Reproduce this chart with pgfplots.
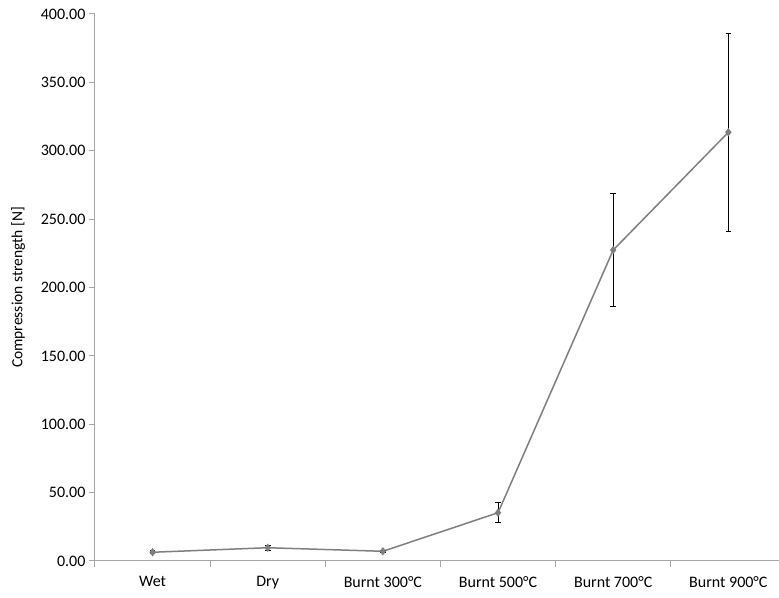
\documentclass[border=0pt]{standalone}
\usepackage{fontspec}
\setmainfont{Carlito}
\usepackage{pgfplots}
\pgfplotsset{compat=1.18}
\definecolor{linegray}{HTML}{7F7F7F}
\definecolor{axisgray}{HTML}{A6A6A6}
\begin{document}
\begin{tikzpicture}
\path[use as bounding box] (-95pt,-36pt) rectangle (684pt,547pt+14pt);
\begin{axis}[
  at={(0,0)}, anchor=south west,
  scale only axis, width=684pt, height=547pt,
  xmin=-0.5, xmax=5.44, ymin=0, ymax=400,
  axis lines*=left,
  axis line style={axisgray, line width=1pt},
  xtick={0,...,5},
  xticklabels={Wet, Dry, Burnt 300°C, Burnt 500°C, Burnt 700°C, Burnt 900°C},
  minor xtick={-0.5,0.5,1.5,2.5,3.5,4.5},
  major x tick style={draw=none},
  minor x tick style={axisgray, line width=1pt},
  ytick={0,50,...,400},
  y tick style={axisgray, line width=1pt},
  tick align=outside,
  major tick length=6pt, minor tick length=6pt,
  yticklabel style={/pgf/number format/.cd, fixed, fixed zerofill, precision=2, assume math mode=true},
  ticklabel style={font=\fontsize{16}{19}\selectfont, text=black},
  xticklabel style={yshift=-6pt},
  ylabel={Compression strength [N]},
  every axis y label/.style={at={(axis description cs:-0.1126,0.5)}, rotate=90, anchor=center, font=\fontsize{15.5}{18}\selectfont},
  clip=false,
]
\addplot[linegray, line width=1.5pt, mark=diamond*, mark size=3pt, mark options={linegray},
  error bars/.cd, y dir=both, y explicit,
  error bar style={black, line width=1pt},
  error mark options={rotate=90, mark size=2.8pt, black, line width=1pt}]
  coordinates {
  (0,6.4) +- (0,1.2)
  (1,9.7) +- (0,1.8)
  (2,7.1) +- (0,0.9)
  (3,35.3) +- (0,7.2)
  (4,227.4) +- (0,41.2)
  (5,313.5) +- (0,72.2)
  };
\end{axis}
\end{tikzpicture}
\end{document}
